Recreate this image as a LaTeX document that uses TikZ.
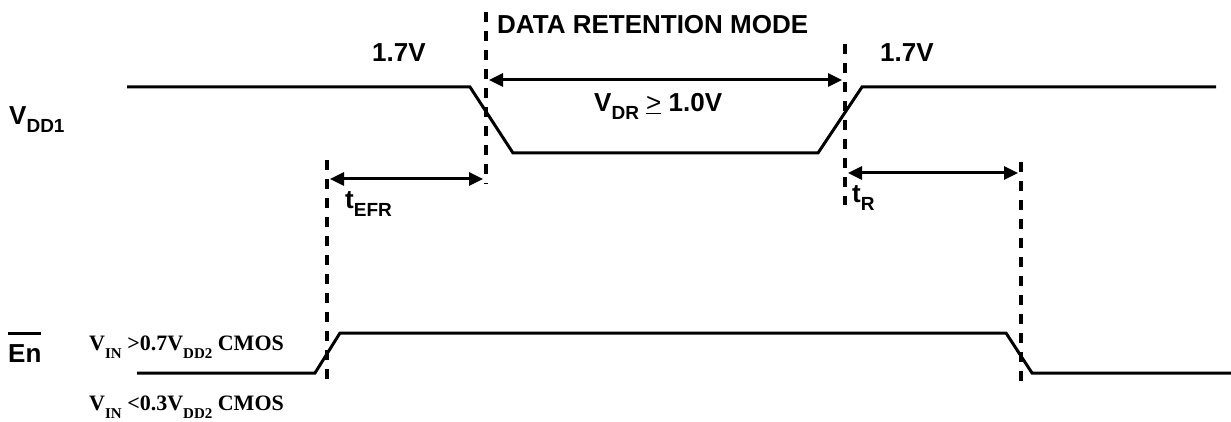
\documentclass[tikz,border=0pt]{standalone}
\usepackage{fontspec}
\setmainfont{Liberation Sans}
\newfontfamily\tnr{Liberation Serif}
\usetikzlibrary{arrows.meta}
\newcommand\mysub[2][19]{\raisebox{-8pt}{\fontsize{#1}{#1}\selectfont #2}}
\newcommand\myovl[1]{\vbox{\hrule height 3pt\kern 9pt\hbox{#1}}}
\tikzset{
  sig/.style={line width=3pt, line join=miter},
  vdash/.style={line width=4.5pt, dash pattern=on 10pt off 9pt},
  dimarr/.style={line width=3pt, {Triangle[length=14pt,width=13pt]}-{Triangle[length=14pt,width=13pt]}},
  lab/.style={font=\bfseries\fontsize{26}{28}\selectfont, inner sep=0pt, anchor=base west},
  cmos/.style={font=\tnr\bfseries\fontsize{22}{24}\selectfont, inner sep=0pt, anchor=base west}
}
\begin{document}
\begin{tikzpicture}[x=1pt,y=-1pt]
\useasboundingbox (0,0) rectangle (1231,422);
% labels
\node[lab] (title) at (497,34) {DATA RETENTION MODE};
\node[lab] (v17a) at (372,62) {1.7V};
\node[lab] (v17b) at (880,62) {1.7V};
\node[lab] (vdd) at (9,125) {V\mysub{DD1}};
\node[lab] (vdr) at (594,112) {V\mysub{DR} {\mdseries\underline{>}} 1.0V};
\node[lab] (tefr) at (345,208) {t\mysub{EFR}};
\node[lab] (tr) at (852,203) {t\mysub{R}};
\node[lab] (en) at (8,362) {\myovl{En}};
\node[cmos] (vhi) at (89,350) {V\mysub[15]{IN} >0.7V\mysub[15]{DD2} CMOS};
\node[cmos] (vlo) at (89,410) {V\mysub[15]{IN} <0.3V\mysub[15]{DD2} CMOS};
% VDD1 waveform
\coordinate (a1) at (127,87);
\coordinate (a2) at (470,87);
\coordinate (a3) at (513,153);
\coordinate (a4) at (818,153);
\coordinate (a5) at (862,87);
\coordinate (a6) at (1216,87);
\draw[sig] (a1) -- (a2) -- (a3) -- (a4) -- (a5) -- (a6);
% En waveform
\coordinate (b1) at (137,373);
\coordinate (b2) at (315,373);
\coordinate (b3) at (340,333);
\coordinate (b4) at (1006,333);
\coordinate (b5) at (1032,373);
\coordinate (b6) at (1231,373);
\draw[sig] (b1) -- (b2) -- (b3) -- (b4) -- (b5) -- (b6);
% dashed markers
\coordinate (d1t) at (486,12);  \coordinate (d1b) at (486,184);
\coordinate (d2t) at (845,44);  \coordinate (d2b) at (845,205);
\coordinate (d3t) at (327,160); \coordinate (d3b) at (327,386);
\coordinate (d4t) at (1021,162);\coordinate (d4b) at (1021,386);
\draw[vdash] (d1t) -- (d1b);
\draw[vdash] (d2t) -- (d2b);
\draw[vdash] (d3t) -- (d3b);
\draw[vdash] (d4t) -- (d4b);
% dimension arrows
\coordinate (r1) at (489,80);  \coordinate (r2) at (842,80);
\coordinate (e1) at (330,179); \coordinate (e2) at (483,179);
\coordinate (s1) at (848,173); \coordinate (s2) at (1018,173);
\draw[dimarr] (r1) -- (r2);
\draw[dimarr] (e1) -- (e2);
\draw[dimarr] (s1) -- (s2);
\end{tikzpicture}
\end{document}
